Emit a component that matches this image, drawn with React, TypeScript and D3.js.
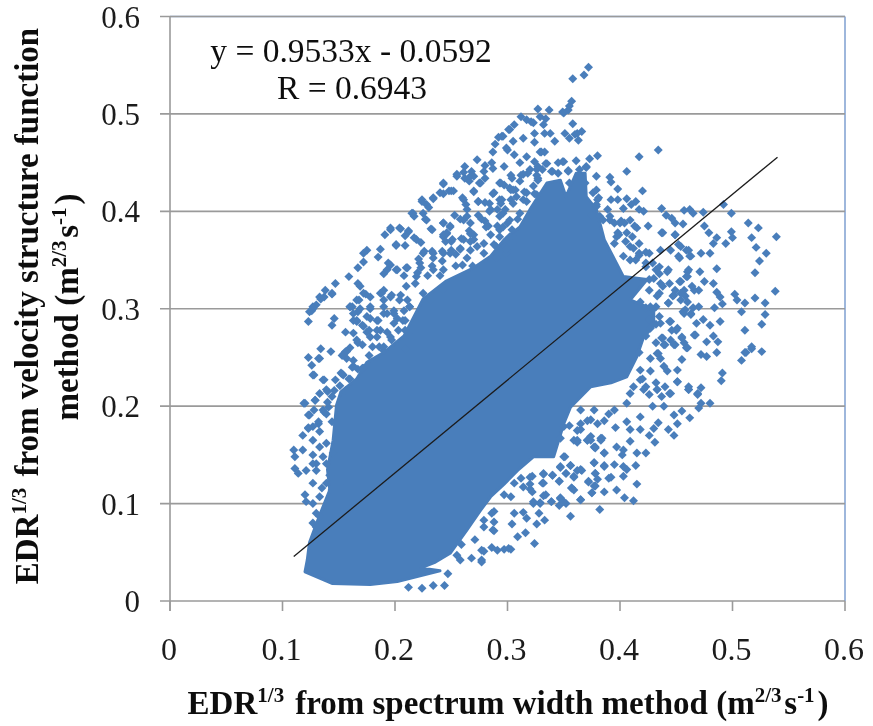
import React from "react";
import * as d3 from "d3";

const W = 873, H = 726;
const xTicks = [0, 0.1, 0.2, 0.3, 0.4, 0.5, 0.6];
const yTicks = [0, 0.1, 0.2, 0.3, 0.4, 0.5, 0.6];
const trendX = [0.11, 0.54];
const trendY = [0.0457, 0.4556];
const equationText = "y = 0.9533x - 0.0592";
const rText = "R = 0.6943";

// outline of the saturated part of the cloud, thousandths of a unit
const denseCore: number[][] = [[120,30],[144,18],[178,17],[202,20],[240,31],[223,34],[236,40],[249,49],[264,73],[276,93],[285,107],[297,120],[309,134],[323,148],[341,148],[350,182],[356,199],[374,220],[392,224],[406,230],[415,251],[421,271],[430,282],[430,299],[409,309],[424,330],[403,333],[386,371],[379,402],[370,415],[369,439],[361,439],[352,415],[347,432],[335,429],[320,402],[311,384],[297,371],[285,354],[270,342],[245,328],[225,310],[208,272],[190,255],[175,245],[166,228],[152,215],[148,201],[145,165],[140,135],[142,114],[133,88],[124,60],[122,42]];

const upperPoints: number[][] = [[301,484],[296,477],[292,476],[289,469],[299,465],[287,461],[273,453],[286,450],[280,447],[287,444],[262,446],[268,441],[255,436],[262,434],[270,436],[279,441],[276,429],[293,429],[243,428],[250,421],[243,418],[234,413],[270,420],[287,418],[261,412],[274,410],[293,412],[224,412],[228,407],[216,398],[225,398],[228,391],[253,396],[274,396],[284,400],[296,398],[261,391],[267,388],[243,388],[249,384],[233,381],[196,383],[204,383],[191,376],[212,379],[219,371],[246,377],[267,377],[281,384],[293,381],[243,374],[259,372],[270,371],[250,369],[201,365],[209,365],[175,360],[187,361],[172,357],[185,353],[258,362],[279,367],[290,364],[225,357],[234,357],[243,357],[250,360],[172,348],[167,342],[194,347],[193,340],[210,342],[222,347],[201,340],[159,333],[167,326],[190,336],[219,333],[234,340],[169,323],[147,326],[138,319],[144,316],[133,312],[172,316],[190,319],[210,323],[218,326],[197,314],[187,316],[166,309],[127,302],[160,302],[204,309],[213,302],[279,357],[267,360],[290,352],[299,357],[293,374],[284,408],[190,309],[178,312],[225,316],[231,309],[243,320]];

const upperBandPoints: number[][] = [[261,440],[267,436],[255,438],[266,431],[275,429],[280,434],[294,429],[304,434],[243,429],[240,419],[248,421],[252,421],[234,414],[270,421],[288,419],[303,422],[224,410],[230,404],[215,398],[227,392],[217,395],[232,382],[260,414],[263,407],[274,410],[280,409],[264,402],[295,412],[303,412],[307,422],[285,402],[291,402],[298,402],[258,392],[264,395],[243,388],[249,385],[246,378],[266,380],[270,376],[277,392],[283,385],[280,390],[291,385],[300,388],[309,392],[304,381],[243,376],[251,371],[245,369],[261,371],[267,369],[273,364],[285,376],[288,366],[298,364],[205,382],[212,380],[209,375],[217,373],[201,366],[223,368],[196,381],[226,359],[233,359],[242,359],[249,357],[258,361],[234,352],[242,349],[264,352],[254,356],[221,351],[223,342],[211,342],[202,340],[208,334],[220,337],[233,344],[229,334],[243,340],[254,344],[240,334],[260,345],[269,344],[196,345]];

const spikePoints: number[][] = [[372,548],[368,540],[358,536],[357,513],[355,508],[349,502],[354,504],[337,504],[327,505],[312,497],[321,492],[329,497],[334,495],[306,489],[302,484],[358,490],[366,482],[362,480],[351,480],[355,475],[363,473],[342,472],[333,480],[324,480],[314,475],[305,472],[295,477],[324,471],[330,461],[300,463],[306,458],[317,456],[311,450],[297,446],[326,443],[334,449],[345,450],[349,451],[361,452],[373,454],[380,457],[354,441],[340,441],[364,443],[370,445],[303,437],[312,437],[327,434],[379,436],[302,424],[315,420],[326,417],[297,427],[305,408],[317,410],[294,408],[323,426],[308,415],[311,398],[302,391],[296,384],[302,374],[308,371],[299,361],[293,395],[305,422],[331,443],[318,439],[345,439],[355,429],[364,436],[369,429],[376,419],[382,395],[379,405],[391,391],[350,501],[317,494],[323,491],[332,489],[338,480],[360,479],[329,461],[333,461],[324,451],[335,449],[350,451],[327,446],[320,443],[326,437],[339,441],[354,442],[370,446],[327,432],[314,438],[311,431],[317,419],[324,418],[314,412],[381,414],[375,396],[379,407]];

const rightUpperPoints: number[][] = [[406,441],[417,456],[434,463],[391,435],[392,430],[398,423],[379,422],[420,421],[392,412],[398,412],[406,413],[380,412],[414,410],[410,407],[389,402],[403,403],[437,403],[417,402],[462,402],[457,401],[474,399],[492,407],[499,398],[465,398],[441,396],[446,393],[449,388],[456,387],[425,385],[404,388],[413,385],[385,391],[475,385],[479,378],[499,379],[514,388],[523,383],[539,374],[517,373],[500,373],[486,373],[494,367],[483,367],[437,378],[449,376],[398,378],[411,374],[521,363],[530,357],[480,357],[472,357],[459,360],[452,366],[524,349],[462,354],[453,352],[423,358],[417,357],[443,340],[486,341],[460,338],[471,338],[520,337],[459,333],[432,340],[475,328],[483,326],[453,328],[444,326],[438,323],[538,318],[470,319],[464,323],[457,319],[486,317],[502,315],[520,311],[489,312],[447,313],[454,309],[460,307],[504,309],[511,306],[529,306],[491,305],[443,306],[484,301],[465,301],[508,297],[456,297],[432,302],[423,301],[463,294],[529,294],[489,287],[474,289],[468,285],[444,287],[480,283],[526,284],[432,284],[511,278],[450,278],[466,273],[483,272],[455,270],[438,270],[487,266],[440,263],[449,263],[477,266],[517,261],[526,256],[511,255],[486,255],[459,260],[434,254],[472,253],[400,388],[406,378],[397,374],[409,364],[417,367],[403,354],[414,350],[423,343],[429,347],[435,343],[426,330],[435,316],[429,299],[426,289],[435,292],[423,272],[432,265],[417,255],[421,400],[409,391],[401,390],[415,383],[395,388],[391,395]];

const rightBandPoints: number[][] = [[438,378],[449,376],[399,376],[395,367],[405,369],[412,362],[426,357],[417,355],[436,360],[445,360],[452,354],[461,360],[454,364],[463,354],[409,350],[423,347],[442,338],[435,336],[461,340],[460,333],[430,331],[436,326],[454,328],[449,319],[466,319],[454,316],[426,319],[448,314],[458,313],[443,306],[433,313],[418,307],[427,302],[458,299],[463,295],[470,302],[457,295],[445,287],[436,285],[427,280],[451,280],[446,278],[455,271],[467,273],[457,265],[460,260],[437,270],[445,268],[448,263],[439,263],[433,254],[427,249],[455,248],[439,241],[451,237],[442,236],[427,236],[418,237],[436,249],[418,227],[451,225],[440,220],[432,224],[461,220],[423,220],[433,217],[445,213],[461,217],[469,213],[412,220],[409,213],[426,212]];

const lowerRightPoints: number[][] = [[517,259],[512,255],[508,247],[491,234],[490,226],[477,251],[472,219],[461,217],[451,225],[444,213],[437,210],[433,217],[421,217],[420,228],[469,212],[472,203],[480,203],[470,198],[455,195],[448,191],[439,200],[429,200],[462,188],[451,182],[434,183],[418,189],[406,184],[396,178],[409,176],[418,176],[430,177],[443,176],[448,170],[426,170],[383,167],[374,165],[362,165],[409,164],[431,163],[378,157],[397,158],[403,155],[386,152],[402,150],[415,152],[423,152],[350,148],[377,142],[395,140],[386,139],[403,138],[414,139],[356,139],[347,137],[365,135],[406,135],[352,131],[378,131],[340,129],[332,131],[392,127],[403,128],[359,128],[322,128],[346,123],[372,123],[331,121],[415,120],[378,118],[357,116],[320,120],[322,112],[397,114],[386,112],[375,111],[334,109],[347,106],[404,106],[412,103],[365,104],[352,100],[323,100],[339,102],[329,101],[346,98],[382,94],[356,87],[328,90],[306,90],[314,91],[288,92],[317,85],[333,83],[304,79],[288,81],[326,79],[279,76],[288,72],[316,70],[309,66],[324,59],[286,55],[291,52],[303,53],[297,53],[279,51],[277,42],[301,54],[277,52],[277,40],[268,44],[271,63],[287,73],[286,90],[279,83],[244,16],[234,16],[224,13],[212,14],[247,28],[258,42],[255,47],[259,58],[395,196],[406,203],[374,186],[365,176],[374,169],[350,179],[359,165],[347,167],[371,165],[377,158],[383,165],[312,126],[306,121],[303,107],[314,117],[297,109]];

const lowerBandPoints: number[][] = [[365,182],[355,180],[362,175],[371,185],[380,182],[386,185],[390,192],[377,196],[365,196],[362,163],[371,165],[378,158],[384,167],[351,148],[386,152],[377,142],[386,138],[347,138],[356,139],[362,134],[352,131],[366,134],[359,127],[378,131],[332,130],[340,129],[346,123],[372,122],[380,125],[332,121],[390,126],[357,116],[377,118],[320,127],[320,115],[375,111],[359,114],[332,108],[323,102],[347,105],[365,104],[339,102],[350,102],[329,100]];

const leftPoints: number[][] = [[127,300],[124,297],[123,287],[144,283],[146,290],[156,276],[134,259],[143,256],[123,250],[133,249],[126,242],[127,232],[136,227],[147,227],[154,232],[163,241],[154,253],[160,260],[167,265],[163,275],[166,287],[175,292],[184,288],[190,295],[175,276],[187,278],[199,285],[209,278],[190,261],[209,259],[172,239],[139,217],[144,210],[120,203],[129,206],[136,196],[124,191],[132,182],[123,177],[118,170],[127,165],[139,162],[110,155],[118,155],[127,150],[111,148],[130,141],[139,141],[111,136],[114,131],[121,134],[127,121],[142,129],[135,116],[144,114],[120,109],[121,102],[130,90],[127,80],[154,124],[145,152],[160,302],[167,297],[178,300],[190,302],[199,295],[163,288],[172,282],[184,271],[196,271],[207,288],[213,302],[156,256],[157,249],[167,238],[160,228],[152,234],[133,213],[139,192],[133,174],[127,179],[133,158],[136,148],[127,141],[130,134],[139,121],[133,107],[127,100],[133,87],[130,76]];

const leftBandPoints: number[][] = [[137,312],[144,315],[134,310],[130,304],[126,298],[162,302],[168,309],[174,315],[188,316],[196,312],[205,314],[211,309],[178,302],[169,300],[163,295],[166,288],[171,283],[178,290],[185,288],[199,298],[208,298],[193,295],[202,290],[209,288],[177,278],[184,278],[193,276],[203,278],[212,274],[166,268],[171,263],[178,271],[186,261],[190,257],[197,268],[157,256],[153,252],[163,247],[177,252],[180,261],[132,249],[128,232],[137,227],[153,233],[162,240],[171,239],[159,228],[166,225],[140,215],[146,216],[119,203],[129,206],[140,204],[151,221],[156,216],[123,191],[128,196],[137,194],[132,184],[123,178],[144,184],[141,199]];

const allPoints = [upperPoints, upperBandPoints, spikePoints, rightUpperPoints, rightBandPoints, lowerRightPoints, lowerBandPoints, leftPoints, leftBandPoints].flat();

const margin = { left: 170, right: 845, top: 16.5, bottom: 601 };
const x = d3.scaleLinear().domain([0, 0.6]).range([margin.left, margin.right]);
const y = d3.scaleLinear().domain([0, 0.6]).range([margin.bottom, margin.top]);
const blue = "#4a7ebb";
const gray = "#9a9a9a";
const serif = "'Liberation Serif','Times New Roman',serif";

const coreLine = d3.line<number[]>().x(d => x(d[0] / 1000)).y(d => y(d[1] / 1000)).curve(d3.curveLinearClosed);
const trendLine = d3.line<number>().x(d => x(d)).y((_, i) => y(trendY[i]));
const marker = d3.symbol().type(d3.symbolSquare).size(40);

function Sup({ children }: { children: React.ReactNode }) {
  return <><tspan dy={-12} fontSize={21}>{children}</tspan><tspan dy={12}>{"\u200a"}</tspan></>;
}

export default function App() {
  return (
    <svg width={W} height={H} style={{ position: "absolute", left: 0, top: 0, background: "#fff" }} fontFamily={serif}>
      <defs>
        <filter id="soft" x="0" y="0" width={W} height={H} filterUnits="userSpaceOnUse">
          <feGaussianBlur stdDeviation="0.45" />
        </filter>
      </defs>
      <g filter="url(#soft)">
        <rect width={W} height={H} fill="#fff" />
        <line x1={margin.left} x2={margin.right} y1={margin.top} y2={margin.top} stroke="#86a5d4" strokeWidth={1.6} />
        <line x1={margin.right} x2={margin.right} y1={margin.top} y2={margin.bottom} stroke="#86a5d4" strokeWidth={1.6} />
        {yTicks.map(t => (
          <g key={t}>
            <line x1={160} x2={margin.right} y1={y(t)} y2={y(t)} stroke={gray} strokeWidth={1.6} />
            <text x={140} y={y(t) + 11} textAnchor="end" fontSize={31} fill="#1a1a1a">{t === 0 ? "0" : t.toFixed(1)}</text>
          </g>
        ))}
        {xTicks.map(t => (
          <g key={t}>
            <line x1={x(t)} x2={x(t)} y1={margin.bottom} y2={611} stroke={gray} strokeWidth={1.6} />
            <text x={x(t) - 1} y={660} textAnchor="middle" fontSize={32} fill="#1a1a1a">{t === 0 ? "0" : t.toFixed(1)}</text>
          </g>
        ))}
        <line x1={margin.left} x2={margin.left} y1={margin.top} y2={611} stroke={gray} strokeWidth={1.6} />
        <path d={coreLine(denseCore) ?? ""} fill={blue} stroke={blue} strokeWidth={3} strokeLinejoin="round" />
        {allPoints.map((p, i) => (
          <path key={i} d={marker() ?? ""} fill={blue} transform={`translate(${x(p[0] / 1000)},${y(p[1] / 1000)}) rotate(45)`} />
        ))}
        <path d={trendLine(trendX) ?? ""} fill="none" stroke="#1c1c1c" strokeWidth={1.3} />
        <text x={351} y={62} textAnchor="middle" fontSize={33.5} fill="#111">{equationText}</text>
        <text x={352} y={99} textAnchor="middle" fontSize={33.5} fill="#111">{rText}</text>
        <text x={508} y={714} textAnchor="middle" fontSize={33} fontWeight="bold" fill="#111">
          EDR<Sup>1/3</Sup> from spectrum width method (m<Sup>2/3</Sup>s<Sup>-1</Sup>)
        </text>
        <g transform="translate(38,306) rotate(-90)">
          <text textAnchor="middle" fontSize={33} fontWeight="bold" fill="#111">
            EDR<Sup>1/3</Sup> from velocity structure function
          </text>
        </g>
        <g transform="translate(78,307) rotate(-90)">
          <text textAnchor="middle" fontSize={33} fontWeight="bold" fill="#111">
            method (m<Sup>2/3</Sup>s<Sup>-1</Sup>)
          </text>
        </g>
      </g>
    </svg>
  );
}
